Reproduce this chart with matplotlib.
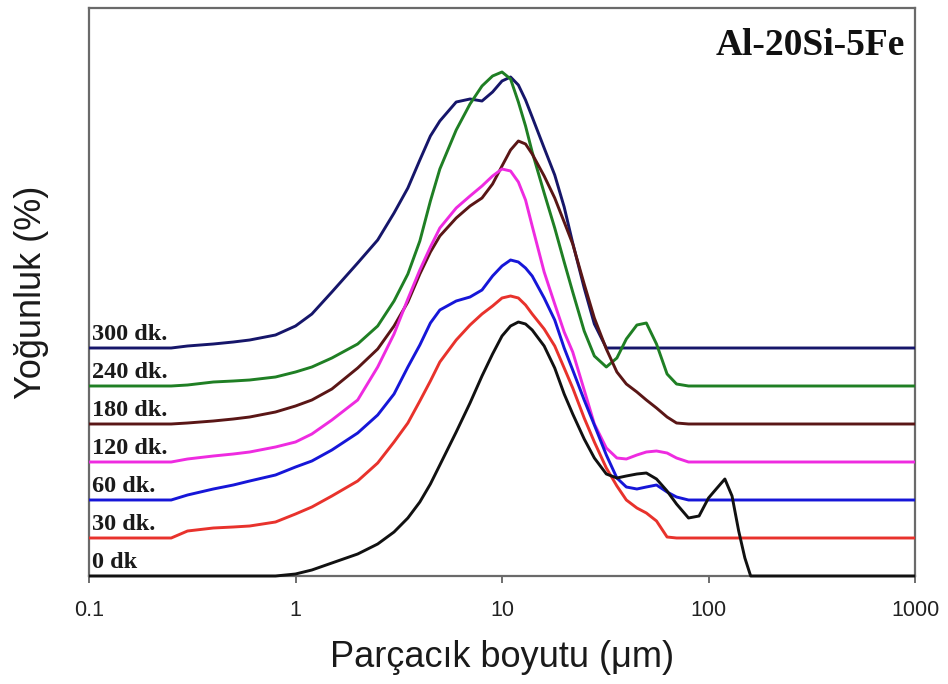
import matplotlib
matplotlib.use("Agg")
import matplotlib.pyplot as plt
from matplotlib.ticker import NullLocator

# Particle size distributions of Al-20Si-5Fe after different milling times.
# Shared particle-size grid (µm) and frequency (%) of each curve above its own baseline.
size_um = [0.1, 0.25, 0.3, 0.4, 0.5, 0.6, 0.8, 1.0, 1.2, 1.5,
           2, 2.5, 3, 3.5, 4, 4.5, 5, 6, 7, 8,
           9, 10, 11, 12, 13, 14, 16, 18, 20, 22,
           25, 28, 32, 36, 40, 45, 50, 56, 63, 70,
           80, 90, 100, 110, 120, 130, 140, 150, 160, 1000]

freq_0 = [0, 0, 0, 0, 0, 0, 0, 0.1, 0.3, 0.65,
          1.1, 1.6, 2.2, 2.9, 3.7, 4.6, 5.55, 7.2, 8.65, 10,
          11.1, 12, 12.5, 12.7, 12.6, 12.3, 11.5, 10.4, 9.1, 8.1,
          6.85, 5.9, 5.1, 4.9, 5, 5.1, 5.15, 4.85, 4.25, 3.6,
          2.9, 3, 3.9, 4.4, 4.85, 4, 2.25, 0.9, 0, 0]

freq_30 = [0, 0, 0.35, 0.5, 0.55, 0.6, 0.8, 1.2, 1.55, 2.1,
           2.85, 3.75, 4.8, 5.75, 6.85, 7.85, 8.8, 9.9, 10.65, 11.2,
           11.6, 12, 12.1, 12, 11.65, 11.2, 10.45, 9.6, 8.5, 7.5,
           6, 4.8, 3.5, 2.6, 1.9, 1.5, 1.25, 0.85, 0.05, 0,
           0, 0, 0, 0, 0, 0, 0, 0, 0, 0]

freq_60 = [0, 0, 0.25, 0.55, 0.75, 0.95, 1.25, 1.65, 1.95, 2.5,
           3.35, 4.25, 5.3, 6.65, 7.75, 8.85, 9.5, 9.95, 10.15, 10.5,
           11.2, 11.7, 12, 11.9, 11.6, 11.2, 10.1, 9, 7.6, 6.5,
           5, 3.75, 2.25, 1.1, 0.65, 0.55, 0.65, 0.75, 0.4, 0.15,
           0, 0, 0, 0, 0, 0, 0, 0, 0, 0]

freq_120 = [0, 0, 0.15, 0.3, 0.4, 0.5, 0.75, 1.0, 1.4, 2.1,
            3.1, 4.75, 6.4, 8.15, 9.6, 10.75, 11.7, 12.7, 13.3, 13.8,
            14.3, 14.65, 14.55, 14, 13.1, 11.8, 9.5, 7.9, 6.5, 5.5,
            3.6, 1.9, 0.7, 0.2, 0.15, 0.35, 0.5, 0.55, 0.45, 0.2,
            0, 0, 0, 0, 0, 0, 0, 0, 0, 0]

freq_180 = [0, 0, 0.05, 0.15, 0.25, 0.35, 0.6, 0.9, 1.2, 1.75,
            2.8, 3.75, 4.9, 6.1, 7.5, 8.6, 9.4, 10.3, 10.9, 11.3,
            12, 12.9, 13.7, 14.15, 14, 13.5, 12.4, 11.3, 10.1, 9,
            7, 5.3, 3.75, 2.6, 2, 1.6, 1.2, 0.8, 0.35, 0.05,
            0, 0, 0, 0, 0, 0, 0, 0, 0, 0]

freq_240 = [0, 0, 0.05, 0.2, 0.25, 0.3, 0.45, 0.7, 0.95, 1.4,
            2.1, 3, 4.25, 5.6, 7.25, 9.25, 10.85, 12.8, 14.1, 15,
            15.5, 15.7, 15.35, 14.2, 13, 11.7, 9.65, 7.9, 6.2, 4.7,
            2.75, 1.5, 0.95, 1.4, 2.35, 3.05, 3.15, 2.1, 0.6, 0.1,
            0, 0, 0, 0, 0, 0, 0, 0, 0, 0]

freq_300 = [0, 0, 0.1, 0.2, 0.3, 0.4, 0.65, 1.1, 1.7, 2.8,
            4.25, 5.4, 6.75, 8, 9.4, 10.6, 11.35, 12.3, 12.45, 12.35,
            12.8, 13.35, 13.55, 13.15, 12.4, 11.55, 10, 8.65, 7.05, 5.25,
            3, 1.2, 0, 0, 0, 0, 0, 0, 0, 0,
            0, 0, 0, 0, 0, 0, 0, 0, 0, 0]

labels = ["0 dk", "30 dk.", "60 dk.", "120 dk.", "180 dk.", "240 dk.", "300 dk."]
series = [freq_0, freq_30, freq_60, freq_120, freq_180, freq_240, freq_300]
colors = ["#111111", "#e8322c", "#1616d8", "#ee2be0", "#5a1616", "#1f7f24", "#16166a"]
offset_step = 1.9  # vertical shift between stacked curves

tick_vals = [0.1, 1, 10, 100, 1000]
tick_labels = ["0.1", "1", "10", "100", "1000"]

fig = plt.figure(figsize=(9.48, 6.84), dpi=100)
ax = fig.add_axes([0.0939, 0.1579, 0.8713, 0.8304])

for i, (y, c) in enumerate(zip(series, colors)):
    base = i * offset_step
    ax.plot(size_um, [v + base for v in y], color=c, lw=2.1, clip_on=False,
            solid_joinstyle="round", solid_capstyle="butt", zorder=3 + (6 - i) * 0.1)
    ax.text(0.103, base + 0.38, labels[i], fontsize=17.5, fontweight="bold",
            family="Liberation Serif", color="#1a1a1a", ha="left", va="baseline",
            zorder=5)

ax.set_xscale("log")
ax.set_xlim(0.1, 1000)
ax.set_ylim(0, 28.4)
ax.set_xticks(tick_vals)
ax.set_xticklabels(tick_labels)
ax.xaxis.set_minor_locator(NullLocator())
ax.set_yticks([])
ax.tick_params(axis="x", direction="out", length=5, width=1.2, color="#555555",
               pad=12, labelsize=15.5, labelcolor="#222222")
for lab in ax.get_xticklabels():
    lab.set_family("Liberation Sans")

for s in ax.spines.values():
    s.set_color("#6a6a6a")
    s.set_linewidth(1.6)

ax.set_xlabel("Parçacık boyutu (μm)", fontsize=26, family="Liberation Sans",
              color="#1a1a1a", labelpad=14)
ax.set_ylabel("Yoğunluk (%)", fontsize=26, family="Liberation Sans",
              color="#1a1a1a")
ax.yaxis.set_label_coords(-0.048, 0.5)

ax.text(0.988, 0.965, "Al-20Si-5Fe", transform=ax.transAxes, ha="right", va="top",
        fontsize=27, fontweight="bold", family="Liberation Serif", color="#111111")

fig.savefig("out.png", dpi=100)
